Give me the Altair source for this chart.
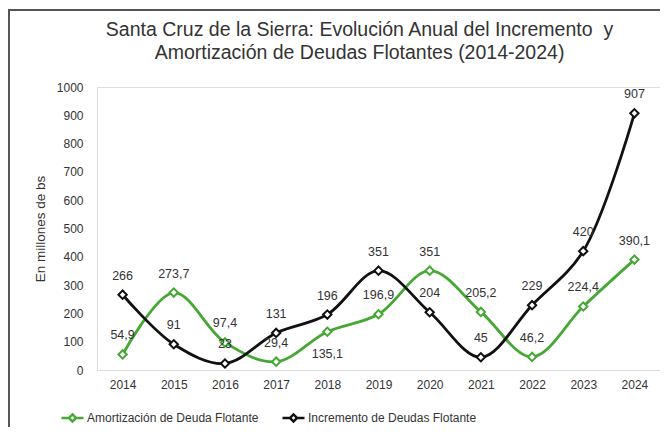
import altair as alt
import pandas as pd

years = [str(y) for y in range(2014, 2025)]
incremento = [266, 91, 23, 131, 196, 351, 204, 45, 229, 420, 907]
amortizacion = [54.9, 273.7, 97.4, 29.4, 135.1, 196.9, 351, 205.2, 46.2, 224.4, 390.1]
series_names = ["Amortización de Deuda Flotante", "Incremento de Deudas Flotante"]
colors = ["#46a834", "#111111"]
y_ticks = list(range(0, 1001, 100))
title_lines = ["Santa Cruz de la Sierra: Evolución Anual del Incremento\u00a0 y",
               "Amortización de Deudas Flotantes (2014-2024)"]
y_title = "En millones de bs"

rows = []
for i, yr in enumerate(years):
    rows.append({"year": yr, "serie": series_names[0], "value": amortizacion[i]})
    rows.append({"year": yr, "serie": series_names[1], "value": incremento[i]})
df = pd.DataFrame(rows)

FONT = "Liberation Sans"

x_enc = alt.X("year:N", scale=alt.Scale(domain=years),
              axis=alt.Axis(title=None, labelAngle=0, tickSize=0, domain=False,
                            labelPadding=9, labelFontSize=12, labelColor="#333",
                            labelFont=FONT, grid=False))
y_enc = alt.Y("value:Q", scale=alt.Scale(domain=[0, 1000], nice=False),
              axis=alt.Axis(title=y_title, values=y_ticks, format="d", tickSize=0, domain=False,
                            grid=False, labelPadding=14, labelFontSize=12,
                            labelColor="#333", labelFont=FONT, titleFont=FONT,
                            titleFontSize=13.5, titleFontWeight="normal",
                            titleColor="#333", titlePadding=9))
stroke_enc = alt.Stroke("serie:N", scale=alt.Scale(domain=series_names, range=colors),
                        legend=alt.Legend(title=None, orient="none", direction="horizontal",
                                          legendX=-37, legendY=318,
                                          symbolType="M-1,0L-0.32,0M0.32,0L1,0M0,-0.32L0.32,0L0,0.32L-0.32,0Z",
                                          symbolSize=484, symbolStrokeWidth=2.5,
                                          symbolFillColor="white", labelFont=FONT,
                                          labelFontSize=12, labelColor="#333",
                                          labelLimit=400,
                                          labelOffset=2, columnPadding=18))

base = alt.Chart(df).encode(x=x_enc, y=y_enc)

lines = base.mark_line(interpolate="catmull-rom", strokeWidth=2.8).encode(stroke=stroke_enc)
points = base.mark_point(shape="diamond", size=70, filled=True, fill="white",
                         strokeWidth=2, opacity=1).encode(
    stroke=alt.Stroke("serie:N", scale=alt.Scale(domain=series_names, range=colors), legend=None))

lab = base.transform_calculate(label="replace(toString(datum.value), '.', ',')")
is_below = f"datum.serie == '{series_names[0]}' && datum.year == '2018'"
labels_above = lab.transform_filter(f"!({is_below})").mark_text(
    dy=-19, fontSize=12.5, font=FONT, color="#333").encode(text="label:N")
labels_below = lab.transform_filter(is_below).mark_text(
    dy=22, fontSize=12.5, font=FONT, color="#333").encode(text="label:N")

frame_data = alt.Data(values=[{"k": 0}])
frame_left = alt.Chart(frame_data).mark_rule(color="#555", strokeWidth=2).encode(
    x=alt.value(-88), y=alt.value(-78), y2=alt.value(400))
frame_top = alt.Chart(frame_data).mark_rule(color="#555", strokeWidth=2).encode(
    x=alt.value(-89), x2=alt.value(600), y=alt.value(-77))

chart = alt.layer(lines, points, labels_above, labels_below, frame_left, frame_top).properties(
    width=563, height=283,
    autosize=alt.AutoSizeParams(type="none"),
    padding={"left": 89, "top": 79, "right": 0, "bottom": 57},
    title=alt.TitleParams(text=title_lines, anchor="middle", dx=-19, dy=79, font=FONT,
                          fontSize=19.5, fontWeight="normal", color="#333",
                          lineHeight=23, offset=24),
).configure_view(stroke="#808080", strokeWidth=1.5).configure(background="white")

chart.save("out.html", embed_options={"renderer": "svg", "actions": False})
